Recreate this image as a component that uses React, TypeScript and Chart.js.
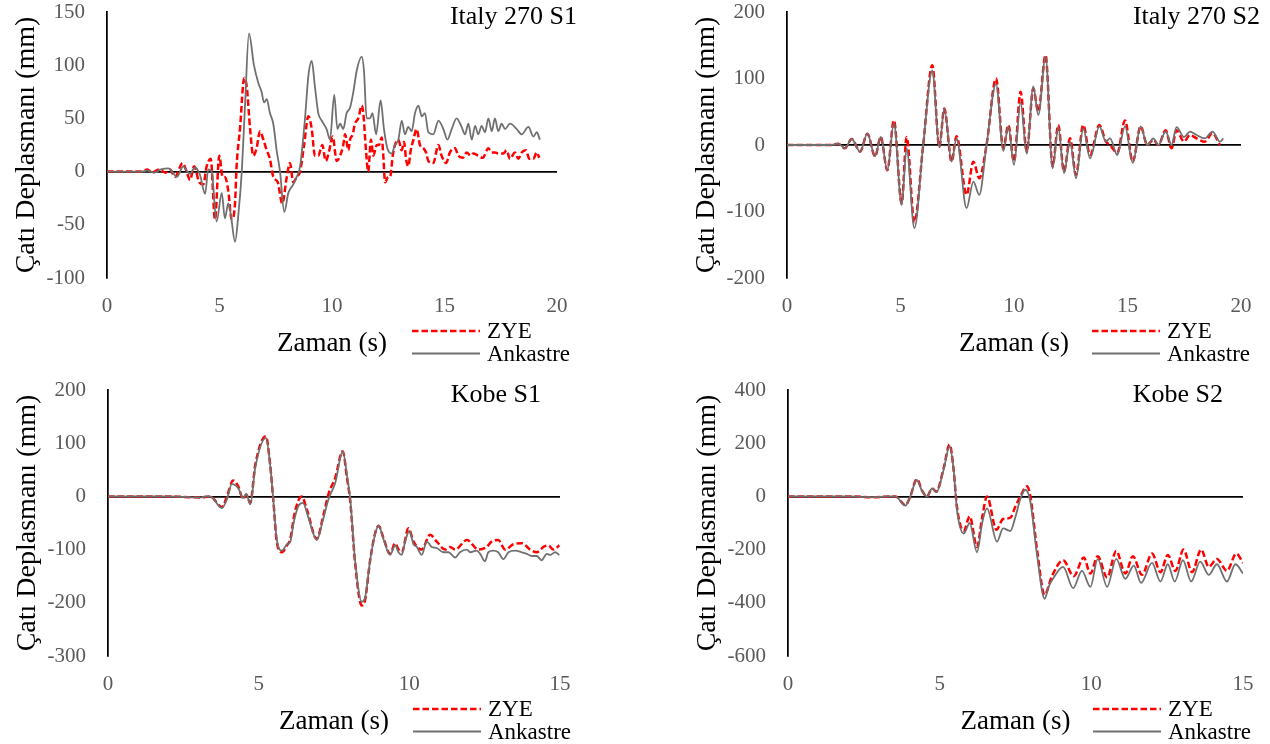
import React, { useEffect, useRef } from "react";
import { Chart, registerables } from "chart.js";

Chart.register(...registerables);

type Pt = [number, number];

// ---------- data (time s, roof displacement mm) ----------
const seriesNames = ["ZYE", "Ankastre"];
const panelTitles = ["Italy 270 S1", "Italy 270 S2", "Kobe S1", "Kobe S2"];
const xTitle = "Zaman (s)";
const yTitle = "Çatı Deplasmanı (mm)";

const xTicksItaly = [0, 5, 10, 15, 20];
const xTicksKobe = [0, 5, 10, 15];
const yTicksItalyS1 = [-100, -50, 0, 50, 100, 150];
const yTicksItalyS2 = [-200, -100, 0, 100, 200];
const yTicksKobeS1 = [-300, -200, -100, 0, 100, 200];
const yTicksKobeS2 = [-600, -400, -200, 0, 200, 400];

const italyS1Zye: Pt[] = [
  [0, 0], [1.5, 0], [1.8, 2], [2.0, -1], [2.3, 2], [2.6, -1], [2.8, 2], [3.02, -5], [3.36, 8], [3.54, 0],
  [3.69, -8], [3.87, 5], [4.1, -10], [4.28, -12], [4.43, 5], [4.61, 12], [4.8, -45], [4.99, 15], [5.14, -5],
  [5.24, -5], [5.39, -18], [5.54, -45], [5.69, -30], [5.76, 5], [5.91, 40], [6.1, 88], [6.21, 80], [6.36, 40],
  [6.5, 15], [6.65, 22], [6.8, 38], [6.95, 30], [7.1, 20], [7.24, 12], [7.39, -5], [7.59, -10], [7.79, -30],
  [7.99, -5], [8.13, 8], [8.28, -10], [8.43, -5], [8.58, 0], [8.76, 25], [8.95, 52], [9.1, 40], [9.24, 15],
  [9.39, 15], [9.57, 25], [9.72, 10], [9.88, 20], [10.03, 33], [10.21, 10], [10.36, 15], [10.5, 25],
  [10.58, 35], [10.73, 20], [10.8, 30], [10.92, 35], [11.02, 45], [11.17, 50], [11.32, 62], [11.39, 55],
  [11.51, 20], [11.61, 0], [11.73, 30], [11.84, 15], [11.99, 25], [12.09, 25], [12.21, 32], [12.28, 15],
  [12.36, -10], [12.5, -5], [12.58, -5], [12.7, 15], [12.8, 25], [12.95, 30], [13.1, 20], [13.2, 28],
  [13.29, 12], [13.39, 5], [13.5, 20], [13.62, 30], [13.76, 40], [13.91, 25], [14.06, 22], [14.18, 18],
  [14.28, 10], [14.5, 8], [14.73, 25], [14.87, 15], [15.07, 8], [15.24, 18], [15.47, 22], [15.61, 15],
  [15.81, 13], [15.99, 18], [16.16, 15], [16.28, 17], [16.5, 15], [16.7, 13], [16.95, 22], [17.1, 18],
  [17.24, 18], [17.39, 17], [17.61, 17], [17.76, 20], [17.91, 12], [18.13, 18], [18.28, 12], [18.43, 18],
  [18.62, 20], [18.77, 12], [18.95, 12], [19.1, 18], [19.21, 13],
];
const italyS1Ankastre: Pt[] = [
  [0, 0], [1.5, 0], [1.8, 1], [2.1, -1], [2.4, 2], [2.73, 3], [2.9, 0], [3.1, -5], [3.39, 5], [3.54, 1],
  [3.69, -2], [3.91, 4], [4.13, -3], [4.36, -21], [4.5, 2], [4.65, 0], [4.87, -47], [5.1, -20], [5.24, -44],
  [5.39, -30], [5.5, -40], [5.69, -66], [5.84, -40], [5.99, 0], [6.13, 60], [6.31, 130], [6.53, 100],
  [6.73, 83], [6.87, 75], [6.98, 65], [7.1, 68], [7.24, 55], [7.39, 45], [7.54, 20], [7.69, 0], [7.88, -38],
  [8.06, -20], [8.28, -12], [8.43, -5], [8.58, 5], [8.8, 50], [8.95, 90], [9.1, 104], [9.24, 80], [9.39, 55],
  [9.54, 48], [9.76, 40], [9.91, 30], [10.1, 72], [10.24, 40], [10.36, 45], [10.5, 40], [10.65, 55],
  [10.8, 60], [10.95, 75], [11.1, 95], [11.32, 108], [11.42, 95], [11.54, 50], [11.69, 50], [11.8, 55],
  [11.96, 35], [12.16, 67], [12.31, 40], [12.46, 22], [12.65, 17], [12.8, 25], [12.95, 30], [13.1, 48],
  [13.24, 35], [13.39, 42], [13.54, 38], [13.69, 55], [13.84, 62], [13.99, 52], [14.13, 55], [14.28, 37],
  [14.5, 35], [14.73, 48], [14.95, 40], [15.13, 30], [15.32, 40], [15.54, 50], [15.76, 42], [15.91, 35],
  [16.06, 45], [16.21, 30], [16.36, 43], [16.5, 35], [16.65, 43], [16.8, 37], [16.95, 50], [17.1, 38],
  [17.24, 50], [17.39, 38], [17.54, 45], [17.69, 40], [17.91, 45], [18.21, 40], [18.43, 35], [18.73, 42],
  [18.95, 33], [19.1, 37], [19.24, 30],
];

const italyS2Zye: Pt[] = [
  [0, 0], [1.9, 0], [2.26, 2], [2.55, -5], [2.85, 9], [3.22, -10], [3.54, 17], [3.88, -17], [4.13, 12],
  [4.42, -38], [4.71, 37], [5.05, -88], [5.27, 12], [5.61, -116], [6.0, 0], [6.4, 120], [6.71, -3],
  [6.93, 55], [7.25, -25], [7.47, 13], [7.91, -75], [8.21, -25], [8.47, -50], [8.79, 0], [9.21, 100],
  [9.53, -5], [9.75, 30], [10.0, -25], [10.29, 80], [10.56, -10], [10.85, 85], [11.07, 50], [11.39, 135],
  [11.7, -32], [11.95, 30], [12.2, -40], [12.47, 10], [12.73, -45], [13.05, 30], [13.35, -15], [13.76, 30],
  [14.05, 5], [14.23, 0], [14.55, -12], [14.89, 37], [15.23, -25], [15.58, 28], [15.87, 0], [16.14, 8],
  [16.36, 0], [16.68, 22], [16.94, -5], [17.16, 22], [17.49, 5], [17.75, 15], [18.04, 10], [18.41, 5],
  [18.74, 18], [19.07, 0],
];
const italyS2Ankastre: Pt[] = [
  [0, 0], [1.9, 0], [2.26, 2], [2.55, -5], [2.85, 9], [3.22, -10], [3.54, 17], [3.88, -17], [4.13, 12],
  [4.42, -38], [4.71, 33], [5.05, -90], [5.27, -5], [5.61, -125], [6.0, 0], [6.4, 112], [6.71, -3],
  [6.93, 55], [7.25, -25], [7.47, 10], [7.91, -95], [8.21, -55], [8.47, -75], [8.79, 0], [9.21, 92],
  [9.53, -9], [9.75, 28], [10.0, -30], [10.29, 64], [10.56, -13], [10.85, 88], [11.07, 45], [11.39, 133],
  [11.7, -35], [11.95, 27], [12.2, -42], [12.47, 5], [12.73, -50], [13.05, 25], [13.35, -20], [13.76, 28],
  [14.05, 5], [14.23, 10], [14.55, -15], [14.89, 28], [15.23, -27], [15.58, 28], [15.87, 0], [16.14, 10],
  [16.36, 0], [16.68, 20], [16.94, 0], [17.16, 27], [17.49, 12], [17.75, 20], [18.04, 15], [18.41, 10],
  [18.74, 20], [19.07, 5], [19.22, 10],
];

const kobeS1Zye: Pt[] = [
  [0, 0], [2.0, 0], [2.5, -1], [3.06, -2], [3.39, 0], [3.78, -20], [3.95, 0], [4.15, 30], [4.33, 18],
  [4.48, -5], [4.59, 3], [4.72, -12], [4.89, 60], [5.24, 113], [5.38, 60], [5.49, -10], [5.6, -85],
  [5.77, -105], [5.94, -92], [6.05, -80], [6.2, -30], [6.43, 0], [6.6, -25], [6.93, -80], [7.13, -40],
  [7.32, 5], [7.54, 35], [7.79, 85], [7.93, 35], [8.04, -10], [8.2, -125], [8.42, -205], [8.53, -195],
  [8.7, -120], [8.87, -68], [8.98, -55], [9.14, -78], [9.36, -108], [9.53, -88], [9.64, -100], [9.75, -105],
  [9.97, -60], [10.14, -85], [10.41, -100], [10.69, -72], [10.91, -85], [11.19, -100], [11.35, -95],
  [11.52, -100], [11.91, -82], [12.29, -100], [12.57, -95], [12.73, -85], [12.95, -82], [13.18, -100],
  [13.45, -90], [13.73, -88], [14.01, -100], [14.23, -105], [14.45, -95], [14.61, -92], [14.78, -100],
  [14.98, -92],
];
const kobeS1Ankastre: Pt[] = [
  [0, 0], [2.0, 0], [2.5, -1], [3.06, -2], [3.25, 0], [3.39, 0], [3.78, -22], [3.95, -5], [4.11, 23],
  [4.33, 15], [4.48, -3], [4.59, 5], [4.72, -15], [4.89, 55], [5.24, 110], [5.38, 60], [5.49, -10],
  [5.6, -80], [5.77, -102], [5.94, -90], [6.05, -85], [6.16, -50], [6.32, -18], [6.47, -12], [6.65, -40],
  [6.93, -82], [7.13, -45], [7.32, -5], [7.54, 25], [7.79, 85], [7.93, 40], [8.04, -5], [8.2, -120],
  [8.42, -198], [8.53, -190], [8.7, -120], [8.87, -70], [8.98, -55], [9.14, -80], [9.36, -110], [9.53, -92],
  [9.64, -105], [9.75, -110], [9.86, -85], [10.0, -65], [10.14, -90], [10.25, -95], [10.41, -110],
  [10.58, -85], [10.74, -95], [10.91, -97], [11.13, -105], [11.3, -105], [11.52, -115], [11.68, -105],
  [11.91, -100], [12.02, -105], [12.24, -102], [12.35, -108], [12.51, -122], [12.62, -105], [12.79, -102],
  [12.95, -105], [13.12, -118], [13.29, -105], [13.51, -102], [13.73, -105], [13.9, -108], [14.06, -112],
  [14.23, -112], [14.39, -120], [14.56, -108], [14.67, -110], [14.84, -105], [14.98, -110],
];

const kobeS2Zye: Pt[] = [
  [0, 0], [2.0, 0], [2.8, -3], [3.54, 0], [3.87, -33], [4.03, 0], [4.25, 65], [4.42, 22], [4.58, 0],
  [4.75, 30], [4.89, 18], [5.13, 105], [5.33, 195], [5.46, 100], [5.57, -40], [5.79, -130], [5.99, -75],
  [6.23, -190], [6.4, -80], [6.56, 0], [6.87, -125], [7.09, -85], [7.33, -80], [7.49, -40], [7.66, 0],
  [7.88, 38], [7.99, 0], [8.21, -200], [8.46, -370], [8.7, -300], [9.07, -240], [9.42, -300], [9.75, -230],
  [9.97, -290], [10.21, -225], [10.52, -305], [10.82, -205], [11.12, -290], [11.37, -225], [11.67, -295],
  [12.0, -215], [12.28, -285], [12.52, -220], [12.77, -280], [13.04, -200], [13.32, -285], [13.62, -200],
  [13.87, -265], [14.14, -235], [14.47, -280], [14.78, -215], [15.0, -250],
];
const kobeS2Ankastre: Pt[] = [
  [0, 0], [2.0, 0], [2.8, -3], [3.3, 0], [3.54, 0], [3.87, -35], [4.03, 0], [4.25, 62], [4.42, 20],
  [4.58, 0], [4.75, 30], [4.89, 15], [5.13, 100], [5.33, 190], [5.46, 100], [5.57, -50], [5.79, -140],
  [5.99, -100], [6.23, -210], [6.4, -100], [6.56, -45], [6.89, -170], [7.09, -120], [7.33, -130],
  [7.49, -80], [7.66, -10], [7.82, 25], [7.99, -20], [8.21, -220], [8.46, -385], [8.59, -340], [8.76, -305],
  [9.07, -265], [9.4, -345], [9.69, -280], [9.97, -340], [10.21, -235], [10.52, -340], [10.82, -235],
  [11.12, -310], [11.4, -260], [11.64, -325], [12.0, -250], [12.28, -320], [12.52, -255], [12.75, -320],
  [13.02, -240], [13.29, -320], [13.59, -245], [13.87, -295], [14.14, -255], [14.47, -320], [14.75, -255],
  [15.0, -290],
];

// ---------- styling ----------
const FONT = "'Liberation Serif', 'Times New Roman', serif";
const TICK_COLOR = "#595959";
const ZYE_COLOR = "#FF0000";
const ANK_COLOR = "#707070";

const panelTitlePlugin = {
  id: "panelTitle",
  afterDraw(chart: any, _args: any, opts: any) {
    const { ctx, chartArea } = chart;
    ctx.save();
    ctx.font = `26px ${FONT}`;
    ctx.fillStyle = "#000";
    ctx.textAlign = "right";
    ctx.textBaseline = "middle";
    ctx.fillText(opts.text, chartArea.right + opts.dx, opts.y);
    ctx.restore();
  },
};

const seriesLegendPlugin = {
  id: "seriesLegend",
  afterDraw(chart: any, _args: any, opts: any) {
    const { ctx, chartArea } = chart;
    const x0 = chartArea.left + opts.lineStart;
    const x1 = chartArea.left + opts.lineEnd;
    const tx = chartArea.left + opts.textStart;
    chart.data.datasets.forEach((ds: any, i: number) => {
      const y = chartArea.bottom + opts.rows[i];
      ctx.save();
      ctx.strokeStyle = ds.borderColor;
      ctx.lineWidth = ds.borderWidth;
      ctx.setLineDash(ds.borderDash || []);
      ctx.beginPath();
      ctx.moveTo(x0, y);
      ctx.lineTo(x1, y);
      ctx.stroke();
      ctx.setLineDash([]);
      ctx.font = `23px ${FONT}`;
      ctx.fillStyle = "#000";
      ctx.textAlign = "left";
      ctx.textBaseline = "middle";
      ctx.fillText(ds.label, tx, y + 1);
      ctx.restore();
    });
  },
};

type PanelProps = {
  left: number;
  top: number;
  width: number;
  height: number;
  rightPad: number;
  title: string;
  titleDx: number;
  zye: Pt[];
  ank: Pt[];
  xTicks: number[];
  yTicks: number[];
};

function Panel(p: PanelProps) {
  const ref = useRef<HTMLCanvasElement>(null);
  useEffect(() => {
    if (!ref.current) return;
    const chart = new Chart(ref.current, {
      type: "line",
      data: {
        datasets: [
          {
            label: seriesNames[0],
            data: p.zye.map(([x, y]) => ({ x, y })),
            borderColor: ZYE_COLOR,
            borderWidth: 2.5,
            borderDash: [6.5, 3],
            pointRadius: 0,
            cubicInterpolationMode: "monotone",
            fill: false,
            order: 1,
          },
          {
            label: seriesNames[1],
            data: p.ank.map(([x, y]) => ({ x, y })),
            borderColor: ANK_COLOR,
            borderWidth: 1.8,
            pointRadius: 0,
            cubicInterpolationMode: "monotone",
            fill: false,
            order: 0,
          },
        ],
      } as any,
      options: {
        animation: false,
        responsive: false,
        maintainAspectRatio: false,
        events: [],
        layout: { padding: { top: 12, right: p.rightPad, left: 0, bottom: 0 } },
        plugins: {
          legend: { display: false },
          tooltip: { enabled: false },
          panelTitle: { text: p.title, dx: p.titleDx, y: 17 },
          seriesLegend: { lineStart: 305, lineEnd: 373, textStart: 380, rows: [53, 75.5] },
        } as any,
        scales: {
          x: {
            type: "linear",
            min: p.xTicks[0],
            max: p.xTicks[p.xTicks.length - 1],
            ticks: {
              stepSize: p.xTicks[1] - p.xTicks[0],
              padding: 16,
              color: TICK_COLOR,
              font: { family: FONT, size: 21 },
              maxRotation: 0,
              autoSkip: false,
            },
            grid: { display: false, drawTicks: false },
            border: { display: false },
            title: {
              display: true,
              text: xTitle,
              color: "#000",
              font: { family: FONT, size: 27 },
              padding: { top: 0, bottom: 6 },
            },
            afterFit: (s: any) => {
              s.height = 88;
            },
          },
          y: {
            type: "linear",
            min: p.yTicks[0],
            max: p.yTicks[p.yTicks.length - 1],
            ticks: {
              stepSize: p.yTicks[1] - p.yTicks[0],
              padding: 22,
              color: TICK_COLOR,
              font: { family: FONT, size: 21, lineHeight: 1 },
              autoSkip: false,
            },
            grid: {
              drawTicks: false,
              color: (c: any) => (c.tick && c.tick.value === 0 ? "#000000" : "rgba(0,0,0,0)"),
              lineWidth: 1.75,
            },
            border: { display: true, color: "#000000", width: 1.75 },
            title: {
              display: true,
              text: yTitle,
              color: "#000",
              font: { family: FONT, size: 28 },
              padding: { top: 10, bottom: 0 },
            },
            afterFit: (s: any) => {
              s.width = 107;
              s.paddingTop = 0;
              s.paddingBottom = 0;
            },
          },
        } as any,
      },
      plugins: [panelTitlePlugin, seriesLegendPlugin],
    });
    return () => chart.destroy();
  }, []);
  return (
    <canvas
      ref={ref}
      width={p.width}
      height={p.height}
      style={{ position: "absolute", left: p.left, top: p.top, width: p.width, height: p.height }}
    />
  );
}

export default function App() {
  return (
    <div
      style={{
        position: "absolute",
        left: 0,
        top: 0,
        width: 1270,
        height: 744,
        overflow: "hidden",
        background: "#ffffff",
      }}
    >
      <Panel left={0} top={0} width={635} height={366} rightPad={78} title={panelTitles[0]} titleDx={20}
        zye={italyS1Zye} ank={italyS1Ankastre} xTicks={xTicksItaly} yTicks={yTicksItalyS1} />
      <Panel left={680} top={0} width={590} height={366} rightPad={29} title={panelTitles[1]} titleDx={19}
        zye={italyS2Zye} ank={italyS2Ankastre} xTicks={xTicksItaly} yTicks={yTicksItalyS2} />
      <Panel left={1} top={378} width={634} height={366} rightPad={75} title={panelTitles[2]} titleDx={-19}
        zye={kobeS1Zye} ank={kobeS1Ankastre} xTicks={xTicksKobe} yTicks={yTicksKobeS1} />
      <Panel left={681} top={378} width={589} height={366} rightPad={27} title={panelTitles[3]} titleDx={-20}
        zye={kobeS2Zye} ank={kobeS2Ankastre} xTicks={xTicksKobe} yTicks={yTicksKobeS2} />
    </div>
  );
}
